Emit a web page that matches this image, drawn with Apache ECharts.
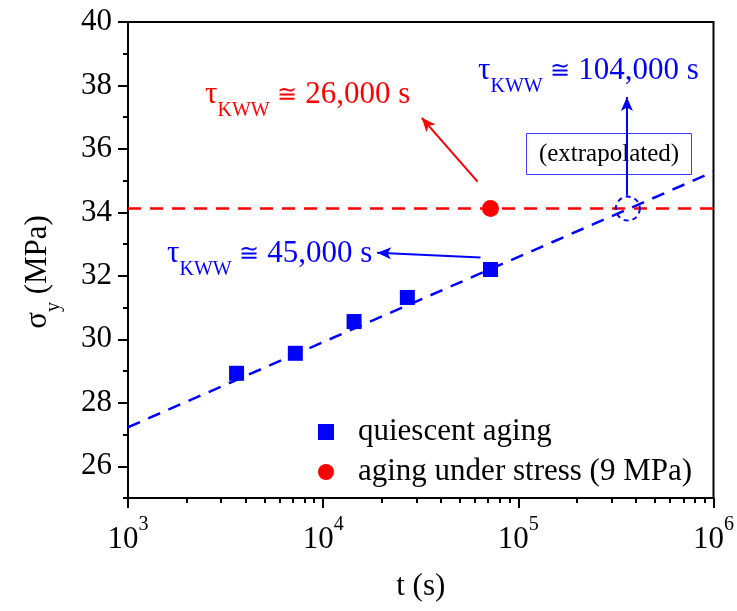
<!DOCTYPE html>
<html>
<head>
<meta charset="utf-8">
<script src="https://cdn.jsdelivr.net/npm/echarts@6/dist/echarts.min.js"></script>
<style>
  html, body { margin: 0; padding: 0; background: #fff; }
  #chart { width: 737px; height: 611px; }
</style>
</head>
<body>
<div id="chart"></div>
<script>
// data
const tQuiescent = [3600, 7200, 14400, 27000, 72000]
const sigmaQuiescent = [28.93, 29.56, 30.56, 31.32, 32.2]
const tStress = [72000]
const sigmaStress = [34.12]
// fitted log line (quiescent) and stress level
const fitT = [1000, 1000000]
const fitSigma = [27.23, 35.28]
const levelT = [1000, 1000000]
const levelSigma = [34.12, 34.12]
// extrapolated crossing point
const crossT = [364000]
const crossSigma = [34.12]
// ticks
const yMajor = [26, 28, 30, 32, 34, 36, 38, 40]
const yMinor = [25, 27, 29, 31, 33, 35, 37, 39]
const xDecades = [1000, 10000, 100000]

const FONT = '"Liberation Serif", "DejaVu Serif", serif'
const BLUE = '#0000ff'
const RED = '#ff0000'

const xMinor = []
xDecades.forEach(d => {
  for (let k = 2; k <= 9; k++) xMinor.push(d * k)
})

const zip = (a, b) => a.map((v, i) => [v, b[i]])

const chart = echarts.init(document.getElementById('chart'), null, { renderer: 'canvas' })

const arrow = (from, to) => [
  { coord: from, symbol: 'none' },
  { coord: to, symbol: 'arrow', symbolSize: [9, 14] }
]

// 下标文字 τ_KWW
const tauRich = (sizeMain, sizeSub) => ({
  a: { fontSize: sizeMain, fontFamily: FONT, lineHeight: 34, verticalAlign: 'top' },
  b: { fontSize: sizeSub, fontFamily: FONT, lineHeight: 20, padding: [22, 0, 0, 0], verticalAlign: 'top' },
  c: { fontSize: 24, fontFamily: '"DejaVu Serif", serif', lineHeight: 34, padding: [5, 0, 0, 0], verticalAlign: 'top' }
})
const tauText = rest => '{a|τ}{b|KWW}{a| }{c|≅}{a| ' + rest + '}'

chart.setOption({
  animation: false,
  backgroundColor: '#fff',
  grid: {
    left: 128, right: 22, top: 22, bottom: 113,
    show: true, borderColor: '#000', borderWidth: 2
  },
  legend: {
    orient: 'vertical',
    left: 313,
    top: 409,
    itemWidth: 16,
    itemHeight: 16,
    itemGap: 4,
    selectedMode: false,
    data: ['quiescent aging', 'aging under stress (9 MPa)'],
    textStyle: { fontFamily: FONT, fontSize: 31, color: '#000', lineHeight: 36, padding: [0, 0, 0, 19] }
  },
  xAxis: [
    {
      type: 'log',
      logBase: 10,
      min: 1000,
      max: 1000000,
      position: 'bottom',
      name: 't (s)',
      nameLocation: 'middle',
      nameGap: 71,
      nameTextStyle: { fontFamily: FONT, fontSize: 31, color: '#000', lineHeight: 36 },
      axisLine: { onZero: false, lineStyle: { color: '#000', width: 2 } },
      axisTick: { show: true, inside: false, length: 10, lineStyle: { color: '#000', width: 2 } },
      axisLabel: {
        margin: 17,
        color: '#000',
        formatter: v => '{b|10}{s|' + Math.round(Math.log10(v)) + '}',
        rich: {
          b: { fontFamily: FONT, fontSize: 31, lineHeight: 40, verticalAlign: 'bottom', color: '#000' },
          s: { fontFamily: FONT, fontSize: 20, lineHeight: 20, verticalAlign: 'top', color: '#000' }
        }
      },
      splitLine: { show: false },
      minorTick: { show: false }
    },
    {
      // minor ticks only
      type: 'log',
      logBase: 10,
      min: 1000,
      max: 1000000,
      position: 'bottom',
      axisLine: { show: false, onZero: false },
      axisTick: { show: true, length: 5, customValues: xMinor, lineStyle: { color: '#000', width: 2 } },
      axisLabel: { show: false },
      splitLine: { show: false }
    }
  ],
  yAxis: [
    {
      type: 'value',
      min: 25,
      max: 40,
      position: 'left',
      name: '{a|σ}{b|y}{a| (MPa)}',
      nameLocation: 'middle',
      nameRotate: 90,
      nameGap: 72,
      nameTextStyle: {
        color: '#000',
        padding: [0, 24, 0, 0],
        rich: tauRich(31, 20)
      },
      axisLine: { onZero: false, lineStyle: { color: '#000', width: 2 } },
      axisTick: { length: 10, customValues: yMajor, lineStyle: { color: '#000', width: 2 } },
      axisLabel: { customValues: yMajor, margin: 16, fontFamily: FONT, fontSize: 31, color: '#000' },
      splitLine: { show: false }
    },
    {
      // minor ticks only
      type: 'value',
      min: 25,
      max: 40,
      position: 'left',
      axisLine: { show: false, onZero: false },
      axisTick: { length: 5, customValues: yMinor, lineStyle: { color: '#000', width: 2 } },
      axisLabel: { show: false },
      splitLine: { show: false }
    }
  ],
  series: [
    {
      name: 'fit',
      type: 'line',
      data: zip(fitT, fitSigma),
      symbol: 'none',
      silent: true,
      lineStyle: { color: BLUE, width: 2.5, type: [13, 9] },
      markLine: {
        silent: true,
        label: { show: false },
        lineStyle: { color: BLUE, width: 2, type: 'solid' },
        data: [
          arrow([64000, 32.58], [18900, 32.73]),
          arrow([360000, 34.53], [360000, 37.64])
        ]
      }
    },
    {
      name: 'level',
      type: 'line',
      data: zip(levelT, levelSigma),
      symbol: 'none',
      silent: true,
      lineStyle: { color: RED, width: 2.5, type: [13, 9] },
      markLine: {
        silent: true,
        label: { show: false },
        lineStyle: { color: RED, width: 2, type: 'solid' },
        data: [arrow([61800, 34.97], [32000, 36.98])]
      }
    },
    {
      name: 'quiescent aging',
      type: 'scatter',
      data: zip(tQuiescent, sigmaQuiescent),
      symbol: 'rect',
      symbolSize: 15,
      itemStyle: { color: BLUE, opacity: 1 },
      z: 5
    },
    {
      name: 'aging under stress (9 MPa)',
      type: 'scatter',
      data: zip(tStress, sigmaStress),
      symbol: 'circle',
      symbolSize: 17,
      itemStyle: { color: RED, opacity: 1 },
      z: 5
    },
    {
      name: 'crossing',
      type: 'scatter',
      data: zip(crossT, crossSigma),
      symbol: 'circle',
      symbolSize: 24,
      silent: true,
      itemStyle: { color: 'rgba(0,0,0,0)', opacity: 1, borderColor: BLUE, borderWidth: 2, borderType: [5, 4] },
      z: 6
    }
  ],
  graphic: [
    {
      type: 'text', left: 205, top: 79, z: 100,
      style: { text: tauText('26,000 s'), fill: RED, rich: tauRich(31, 20) }
    },
    {
      type: 'text', left: 478, top: 55, z: 100,
      style: { text: tauText('104,000 s'), fill: BLUE, rich: tauRich(31, 20) }
    },
    {
      type: 'text', left: 167, top: 238, z: 100,
      style: { text: tauText('45,000 s'), fill: BLUE, rich: tauRich(31, 20) }
    },
    {
      type: 'group', left: 526, top: 133, z: 100,
      children: [
        { type: 'rect', shape: { x: 0, y: 0, width: 165, height: 41 }, style: { fill: '#fff', stroke: '#3c3cff', lineWidth: 1 } },
        { type: 'text', x: 82.5, y: 21, style: { text: '(extrapolated)', fill: '#000', font: '25px ' + FONT, align: 'center', verticalAlign: 'middle' } }
      ]
    }
  ]
})
</script>
</body>
</html>
